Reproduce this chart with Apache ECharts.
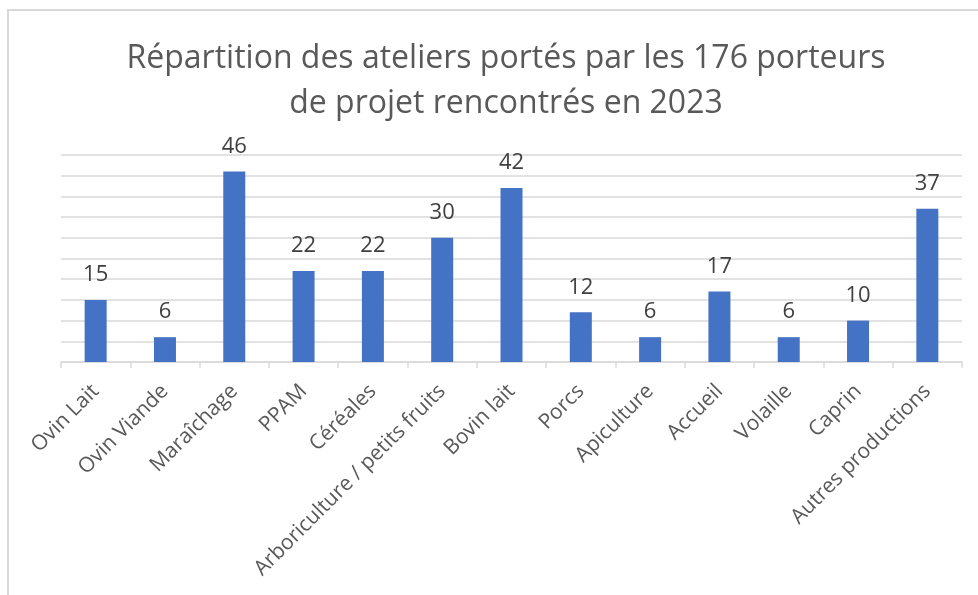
<!DOCTYPE html>
<html>
<head>
<meta charset="utf-8">
<script src="https://cdn.jsdelivr.net/npm/echarts@6/dist/echarts.min.js"></script>
<style>
  html, body { margin: 0; padding: 0; background: #fff; }
  #chart { width: 978px; height: 595px; }
</style>
</head>
<body>
<div id="chart"></div>
<script>
var titleText = 'Répartition des ateliers portés par les 176 porteurs\nde projet rencontrés en 2023'
var categories = ['Ovin Lait', 'Ovin Viande', 'Maraîchage', 'PPAM', 'Céréales',
  'Arboriculture / petits fruits', 'Bovin lait', 'Porcs', 'Apiculture', 'Accueil',
  'Volaille', 'Caprin', 'Autres productions']
var values = [15, 6, 46, 22, 22, 30, 42, 12, 6, 17, 6, 10, 37]

var myChart = echarts.init(document.getElementById('chart'))
var option = {
  backgroundColor: '#fff',
  animation: false,
  // cadre du graphique (rogné à droite et en bas)
  graphic: [{
    type: 'rect',
    shape: { x: 8, y: 10, width: 1000, height: 700 },
    style: { fill: 'none', stroke: '#d9d9d9', lineWidth: 2 },
    silent: true
  }],
  title: {
    text: titleText,
    left: 501,
    textAlign: 'center',
    top: 31,
    textStyle: {
      fontFamily: 'Open Sans',
      fontSize: 32,
      fontWeight: 'normal',
      color: '#595959',
      lineHeight: 45
    }
  },
  grid: {
    left: 61,
    right: 16,
    top: 155,
    bottom: 233
  },
  xAxis: {
    type: 'category',
    data: categories,
    axisLine: { lineStyle: { color: '#d9d9d9', width: 1.5 } },
    axisTick: { show: true, length: 6, lineStyle: { color: '#d9d9d9', width: 1.5 } },
    axisLabel: {
      rotate: 45,
      margin: 26,
      interval: 0,
      fontFamily: 'Open Sans',
      fontSize: 21,
      color: '#595959'
    }
  },
  yAxis: {
    type: 'value',
    min: 0,
    max: 50,
    interval: 5,
    axisLine: { show: false },
    axisTick: { show: false },
    axisLabel: { show: false },
    splitLine: { lineStyle: { color: '#d9d9d9', width: 1.5 } }
  },
  series: [{
    type: 'bar',
    data: values,
    barWidth: 22,
    itemStyle: { color: '#4472c4' },
    label: {
      show: true,
      position: 'top',
      distance: 14,
      fontFamily: 'Open Sans',
      fontSize: 22,
      color: '#404040'
    }
  }]
}
myChart.setOption(option)
</script>
</body>
</html>
